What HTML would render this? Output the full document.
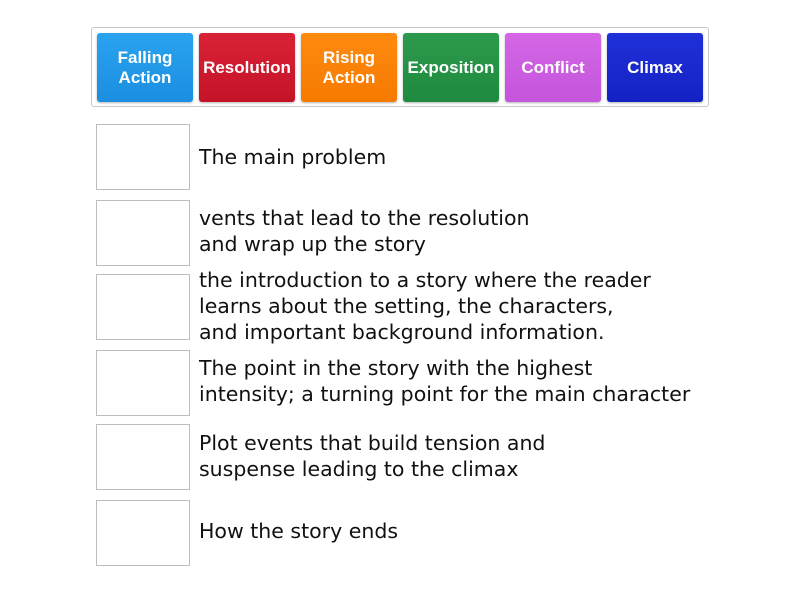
<!DOCTYPE html>
<html><head><style>
body{margin:0;width:800px;height:600px;background:#fff;font-family:"Liberation Sans",sans-serif;position:relative;overflow:hidden}
.c{position:absolute;left:91px;top:27px;width:616px;height:78px;border:1px solid #c8c8c8;border-radius:3px}
.t{position:absolute;top:33px;width:96px;height:69px;border-radius:3px;color:#fff;font-weight:bold;font-size:17px;line-height:20px;display:flex;align-items:center;justify-content:center;text-align:center;box-shadow:0 1px 2px rgba(0,0,0,.3)}
.b{position:absolute;left:96px;width:92px;height:64px;border:1px solid #bdbdbd}
.x{position:absolute;left:199px;font-family:"DejaVu Sans",sans-serif;font-size:20.5px;line-height:26px;color:#111;display:flex;align-items:center;white-space:nowrap}
</style></head><body>
<div class="c"></div>
<div class="t" style="left:97px;background:linear-gradient(#2aa3ef,#1b8ee0)">Falling<br>Action</div>
<div class="t" style="left:199px;background:linear-gradient(#d92136,#c41328)">Resolution</div>
<div class="t" style="left:301px;background:linear-gradient(#ff8a10,#f57a00)">Rising<br>Action</div>
<div class="t" style="left:403px;background:linear-gradient(#2c9a4c,#1f8a3f)">Exposition</div>
<div class="t" style="left:505px;background:linear-gradient(#d466e6,#c455dc)">Conflict</div>
<div class="t" style="left:607px;background:linear-gradient(#2030d8,#1422c4)">Climax</div>

<div class="b" style="top:124px"></div><div class="x" style="top:124px;height:66px">The main problem</div>
<div class="b" style="top:200px"></div><div class="x" style="top:198px;height:66px">vents that lead to the resolution<br>and wrap up the story</div>
<div class="b" style="top:274px"></div><div class="x" style="top:266px;height:80px">the introduction to a story where the reader<br>learns about the setting, the characters,<br>and important background information.</div>
<div class="b" style="top:350px"></div><div class="x" style="top:348px;height:66px">The point in the story with the highest<br>intensity; a turning point for the main character</div>
<div class="b" style="top:424px"></div><div class="x" style="top:423px;height:66px">Plot events that build tension and<br>suspense leading to the climax</div>
<div class="b" style="top:500px"></div><div class="x" style="top:498px;height:66px">How the story ends</div>
</body></html>
